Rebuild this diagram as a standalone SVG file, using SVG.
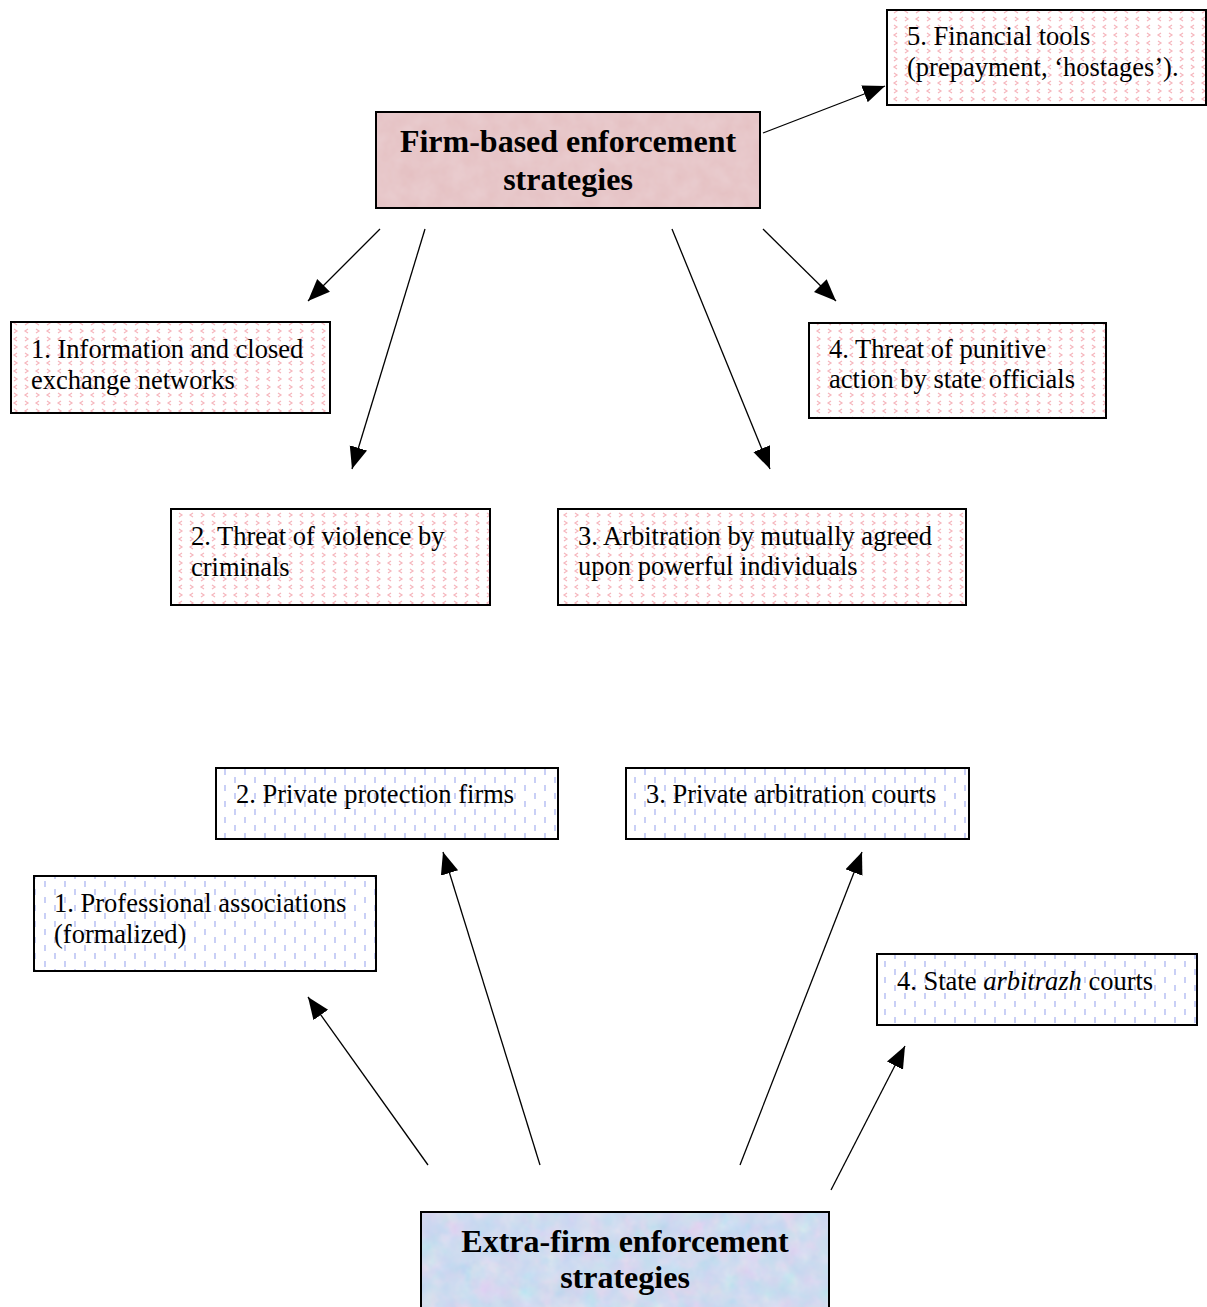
<svg xmlns="http://www.w3.org/2000/svg" width="1207" height="1307" viewBox="0 0 1207 1307">
<defs>
<pattern id="pinkPat" patternUnits="userSpaceOnUse" width="22" height="16">
<rect width="22" height="16" fill="#ffffff"/>
<path d="M3 1 L6 3 L3 5" fill="none" stroke="#f6b6bd" stroke-width="1.2"/>
<path d="M17 1 L14 3 L17 5" fill="none" stroke="#f6b6bd" stroke-width="1.2"/>
<path d="M14 9 L17 11 L14 13" fill="none" stroke="#f6b6bd" stroke-width="1.2"/>
<path d="M6 9 L3 11 L6 13" fill="none" stroke="#f6b6bd" stroke-width="1.2"/>
</pattern>
<pattern id="bluePat" patternUnits="userSpaceOnUse" width="20" height="16">
<rect width="20" height="16" fill="#ffffff"/>
<line x1="5" y1="1" x2="5" y2="7" stroke="#bcc4f4" stroke-width="1.6"/>
<line x1="15" y1="9" x2="15" y2="15" stroke="#bcc4f4" stroke-width="1.6"/>
</pattern>
<filter id="pinkTex" x="0" y="0" width="100%" height="100%">
<feTurbulence type="fractalNoise" baseFrequency="0.06" numOctaves="3" seed="3" result="n"/>
<feColorMatrix in="n" type="matrix" values="0 0 0 0 0.85  0 0 0 0 0.68  0 0 0 0 0.70  0 0 0 0.6 0" result="c"/>
<feComposite in="c" in2="SourceGraphic" operator="atop"/>
</filter>
<filter id="blueTex" x="0" y="0" width="100%" height="100%">
<feTurbulence type="fractalNoise" baseFrequency="0.05" numOctaves="3" seed="7" result="n"/>
<feColorMatrix in="n" type="matrix" values="1.2 0 0 0 0.2  0 0.6 0 0 0.45  0 0 0.3 0 0.7  0 0 0 0.55 0" result="c"/>
<feComposite in="c" in2="SourceGraphic" operator="atop"/>
</filter>
<marker id="arr" markerUnits="userSpaceOnUse" markerWidth="24" markerHeight="20" refX="22" refY="9" orient="auto">
<path d="M0 0 L22 9 L0 18 Z" fill="#000"/>
</marker>
</defs>
<style>
.box{stroke:#000;stroke-width:2}
.pink{fill:url(#pinkPat)}
.blue{fill:url(#bluePat)}
.t{font-family:"Liberation Serif","Times New Roman",serif;font-size:26.5px;fill:#000}
.h{font-family:"Liberation Serif","Times New Roman",serif;font-size:32px;font-weight:bold;fill:#000;text-anchor:middle}
.c{stroke:#000;stroke-width:1.3;fill:none;marker-end:url(#arr)}
</style>
<rect width="1207" height="1307" fill="#fff"/>

<g id="firm-based">
<rect x="376" y="112" width="384" height="96" fill="#e4bfc1" class="box"/>
<rect x="377" y="113" width="382" height="94" fill="#e4bfc1" filter="url(#pinkTex)"/>
<text class="h" x="568" y="152">Firm-based enforcement</text>
<text class="h" x="568" y="190">strategies</text>
</g>

<g id="f5">
<rect x="887" y="10" width="319" height="95" class="box pink"/>
<text class="t" x="907" y="45">5. Financial tools</text>
<text class="t" x="907" y="76">(prepayment, ‘hostages’).</text>
</g>

<g id="f1">
<rect x="11" y="322" width="319" height="91" class="box pink"/>
<text class="t" x="31" y="358">1. Information and closed</text>
<text class="t" x="31" y="389">exchange networks</text>
</g>

<g id="f4">
<rect x="809" y="323" width="297" height="95" class="box pink"/>
<text class="t" x="829" y="358">4. Threat of punitive</text>
<text class="t" x="829" y="388">action by state officials</text>
</g>

<g id="f2">
<rect x="171" y="509" width="319" height="96" class="box pink"/>
<text class="t" x="191" y="545">2. Threat of violence by</text>
<text class="t" x="191" y="576">criminals</text>
</g>

<g id="f3">
<rect x="558" y="509" width="408" height="96" class="box pink"/>
<text class="t" x="578" y="545">3. Arbitration by mutually agreed</text>
<text class="t" x="578" y="575">upon powerful individuals</text>
</g>

<g id="e2">
<rect x="216" y="768" width="342" height="71" class="box blue"/>
<text class="t" x="236" y="803">2. Private protection firms</text>
</g>

<g id="e3">
<rect x="626" y="768" width="343" height="71" class="box blue"/>
<text class="t" x="646" y="803">3. Private arbitration courts</text>
</g>

<g id="e1">
<rect x="34" y="876" width="342" height="95" class="box blue"/>
<text class="t" x="54" y="912">1. Professional associations</text>
<text class="t" x="54" y="943">(formalized)</text>
</g>

<g id="e4">
<rect x="877" y="954" width="320" height="71" class="box blue"/>
<text class="t" x="897" y="990">4. State <tspan font-style="italic">arbitrazh</tspan> courts</text>
</g>

<g id="extra-firm">
<rect x="421" y="1212" width="408" height="110" fill="#c6d8f0" class="box"/>
<rect x="422" y="1213" width="406" height="108" fill="#c6d8f0" filter="url(#blueTex)"/>
<text class="h" x="625" y="1252">Extra-firm enforcement</text>
<text class="h" x="625" y="1288">strategies</text>
</g>

<g id="connectors">
<line class="c" x1="763" y1="133" x2="885" y2="86"/>
<line class="c" x1="380" y1="229" x2="308" y2="301"/>
<line class="c" x1="425" y1="229" x2="352" y2="469"/>
<line class="c" x1="672" y1="229" x2="770" y2="469"/>
<line class="c" x1="763" y1="229" x2="836" y2="301"/>
<line class="c" x1="428" y1="1165" x2="308" y2="997"/>
<line class="c" x1="540" y1="1165" x2="443" y2="852"/>
<line class="c" x1="740" y1="1165" x2="862" y2="852"/>
<line class="c" x1="831" y1="1190" x2="905" y2="1046"/>
</g>
</svg>
